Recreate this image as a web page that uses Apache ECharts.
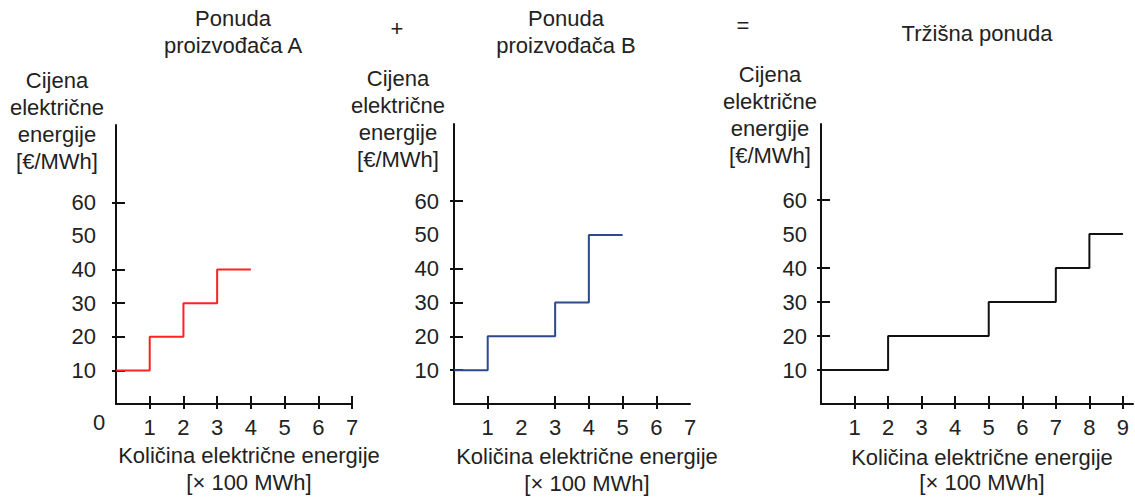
<!DOCTYPE html>
<html>
<head>
<meta charset="utf-8">
<script src="https://cdn.jsdelivr.net/npm/echarts@6/dist/echarts.min.js"></script>
<style>
  html, body { margin: 0; padding: 0; background: #fff; }
  #chart { width: 1135px; height: 499px; }
</style>
</head>
<body>
<div id="chart"></div>
<script>
// ponuda proizvođača A (stepenasta krivulja, step: 'end')
const qtyA = [0, 1, 2, 3, 4]
const priceA = [10, 20, 30, 40, 40]
// ponuda proizvođača B
const qtyB = [0, 1, 3, 4, 5]
const priceB = [10, 20, 30, 50, 50]
// tržišna ponuda
const qtyM = [0, 2, 5, 7, 8, 9]
const priceM = [10, 20, 30, 40, 50, 50]

// oznake na osima
const yLabels = [10, 20, 30, 40, 50, 60]
const yTicks = [10, 20, 30, 40, 60]
const xLabelsA = [1, 2, 3, 4, 5, 6, 7]
const xTicksA = [1, 2, 3, 4, 5, 6, 7]
const xLabelsB = [1, 2, 3, 4, 5, 6, 7]
const xTicksB = [1, 3, 4, 5, 6]
const xLabelsM = [1, 2, 3, 4, 5, 6, 7, 8, 9]
const xTicksM = [1, 2, 3, 4, 5, 6, 7, 8, 9]

const yName = 'Cijena\nelektrične\nenergije\n[€/MWh]'
const xName = 'Količina električne energije\n[× 100 MWh]'

const font = 'Liberation Sans, Arial, sans-serif'
const textColor = '#222'

const pair = (xs, ys) => xs.map((x, i) => [x, ys[i]])

const txt = (text, left, top, lh) => ({
  text: text,
  left: left,
  top: top,
  padding: 0,
  textAlign: 'center',
  textStyle: { fontSize: 22, fontWeight: 'normal', color: textColor, fontFamily: font, lineHeight: lh || 27 }
})

// glavna os x (crtice prema dolje) + pomoćna os (crtice prema gore)
const makeX = (grid, max, labels, ticks) => [
  {
    type: 'value', gridIndex: grid, min: 0, max: max, position: 'bottom',
    axisLine: { lineStyle: { color: '#111', width: 2 } },
    axisTick: { show: true, length: 5, lineStyle: { color: '#111', width: 2 }, customValues: ticks },
    axisLabel: { customValues: labels, margin: 12, fontSize: 22, color: textColor, fontFamily: font },
    splitLine: { show: false }
  },
  {
    type: 'value', gridIndex: grid, min: 0, max: max, position: 'bottom',
    axisLine: { show: false },
    axisTick: { show: true, inside: true, length: 8, lineStyle: { color: '#111', width: 2 }, customValues: ticks },
    axisLabel: { show: false },
    splitLine: { show: false }
  }
]

const makeY = (grid, max, margin) => [
  {
    type: 'value', gridIndex: grid, min: 0, max: max, position: 'left',
    axisLine: { show: true, lineStyle: { color: '#111', width: 2 } },
    axisTick: { show: true, length: 4, lineStyle: { color: '#111', width: 2 }, customValues: yTicks },
    axisLabel: { customValues: yLabels, margin: margin, fontSize: 22, color: textColor, fontFamily: font },
    splitLine: { show: false }
  },
  {
    type: 'value', gridIndex: grid, min: 0, max: max, position: 'left',
    axisLine: { show: false },
    axisTick: { show: true, inside: true, length: 9, lineStyle: { color: '#111', width: 2 }, customValues: yTicks },
    axisLabel: { show: false },
    splitLine: { show: false }
  }
]

const stepLine = (name, data, xi, yi, color) => ({
  name: name,
  type: 'line',
  step: 'end',
  xAxisIndex: xi,
  yAxisIndex: yi,
  data: data,
  symbol: 'none',
  lineStyle: { color: color, width: 2 },
  silent: true,
  animation: false
})

const chart = echarts.init(document.getElementById('chart'), null, { renderer: 'svg' })

chart.setOption({
  backgroundColor: '#fff',
  animation: false,
  title: [
    txt('Ponuda\nproizvođača A', 233, 4.5),
    txt('+', 397, 14.5),
    txt('Ponuda\nproizvođača B', 566, 4.5),
    txt('=', 743, 11.5),
    txt('Tržišna ponuda', 977, 19.5),
    txt(yName, 57, 66.5),
    txt(yName, 398, 64.5),
    txt(yName, 770, 60.5),
    txt('0', 99, 409),
    txt(xName, 249, 441.5),
    txt(xName, 587, 442.5),
    txt(xName, 982, 445, 25)
  ],
  grid: [
    { left: 116, top: 125, width: 236, height: 279 },
    { left: 454, top: 124, width: 236, height: 280 },
    { left: 821, top: 124, width: 312, height: 280 }
  ],
  xAxis: [
    ...makeX(0, 7, xLabelsA, xTicksA),
    ...makeX(1, 7, xLabelsB, xTicksB),
    ...makeX(2, 9.3, xLabelsM, xTicksM)
  ],
  yAxis: [
    ...makeY(0, 83, 20),
    ...makeY(1, 82.8, 15),
    ...makeY(2, 82.4, 14)
  ],
  series: [
    stepLine('Ponuda proizvođača A', pair(qtyA, priceA), 0, 0, '#ff2222'),
    stepLine('Ponuda proizvođača B', pair(qtyB, priceB), 2, 2, '#2a4a8c'),
    stepLine('Tržišna ponuda', pair(qtyM, priceM), 4, 4, '#111')
  ]
})

window.addEventListener('resize', () => chart.resize())
</script>
</body>
</html>
